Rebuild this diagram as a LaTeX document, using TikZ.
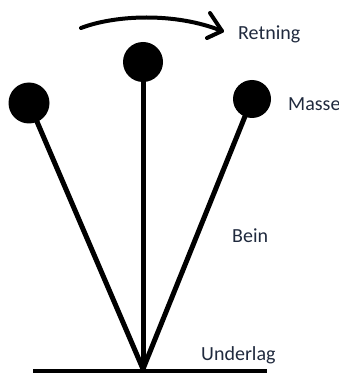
\documentclass[tikz,border=0pt]{standalone}
\usepackage{fontspec}
\setmainfont{Carlito}
\definecolor{labelink}{RGB}{32,42,62}
\begin{document}
\begin{tikzpicture}[x=1pt,y=-1pt,
  mass/.style={circle,fill=black,inner sep=0pt,minimum size=#1},
  leg/.style={line width=5pt},
  lbl/.style={anchor=base west,inner sep=0pt,text=labelink,font=\fontsize{20}{24}\selectfont}]
  \useasboundingbox (0,0) rectangle (339,374);
  % ground and pivot
  \coordinate (gl) at (33,371);
  \coordinate (gr) at (267,371);
  \coordinate (pivot) at (143,369);
  \draw[line width=4.5pt] (gl) -- (gr);
  % three masses
  \node[mass=41pt] (mL) at (29,103) {};
  \node[mass=40pt] (mC) at (143,62) {};
  \node[mass=38pt] (mR) at (252,99) {};
  % legs
  \draw[leg] (pivot) -- (mL.center);
  \draw[leg] (pivot) -- (mC.center);
  \draw[leg] (pivot) -- (mR.center);
  % direction arrow
  \coordinate (a0) at (81,28);
  \coordinate (a1) at (222,31);
  \coordinate (b1) at (210,13);
  \coordinate (b2) at (207,38);
  \draw[line width=4pt,line cap=round] (a0) .. controls (115,15) and (175,12) .. (a1);
  \draw[line width=4pt,line cap=round,line join=round] (b1) -- (a1) -- (b2);
  % labels
  \node[lbl] (tRet) at (238,40) {Retning};
  \node[lbl] (tMas) at (288,111) {Masse};
  \node[lbl] (tBei) at (232,242) {Bein};
  \node[lbl] (tUnd) at (201,360) {Underlag};
\end{tikzpicture}
\end{document}
